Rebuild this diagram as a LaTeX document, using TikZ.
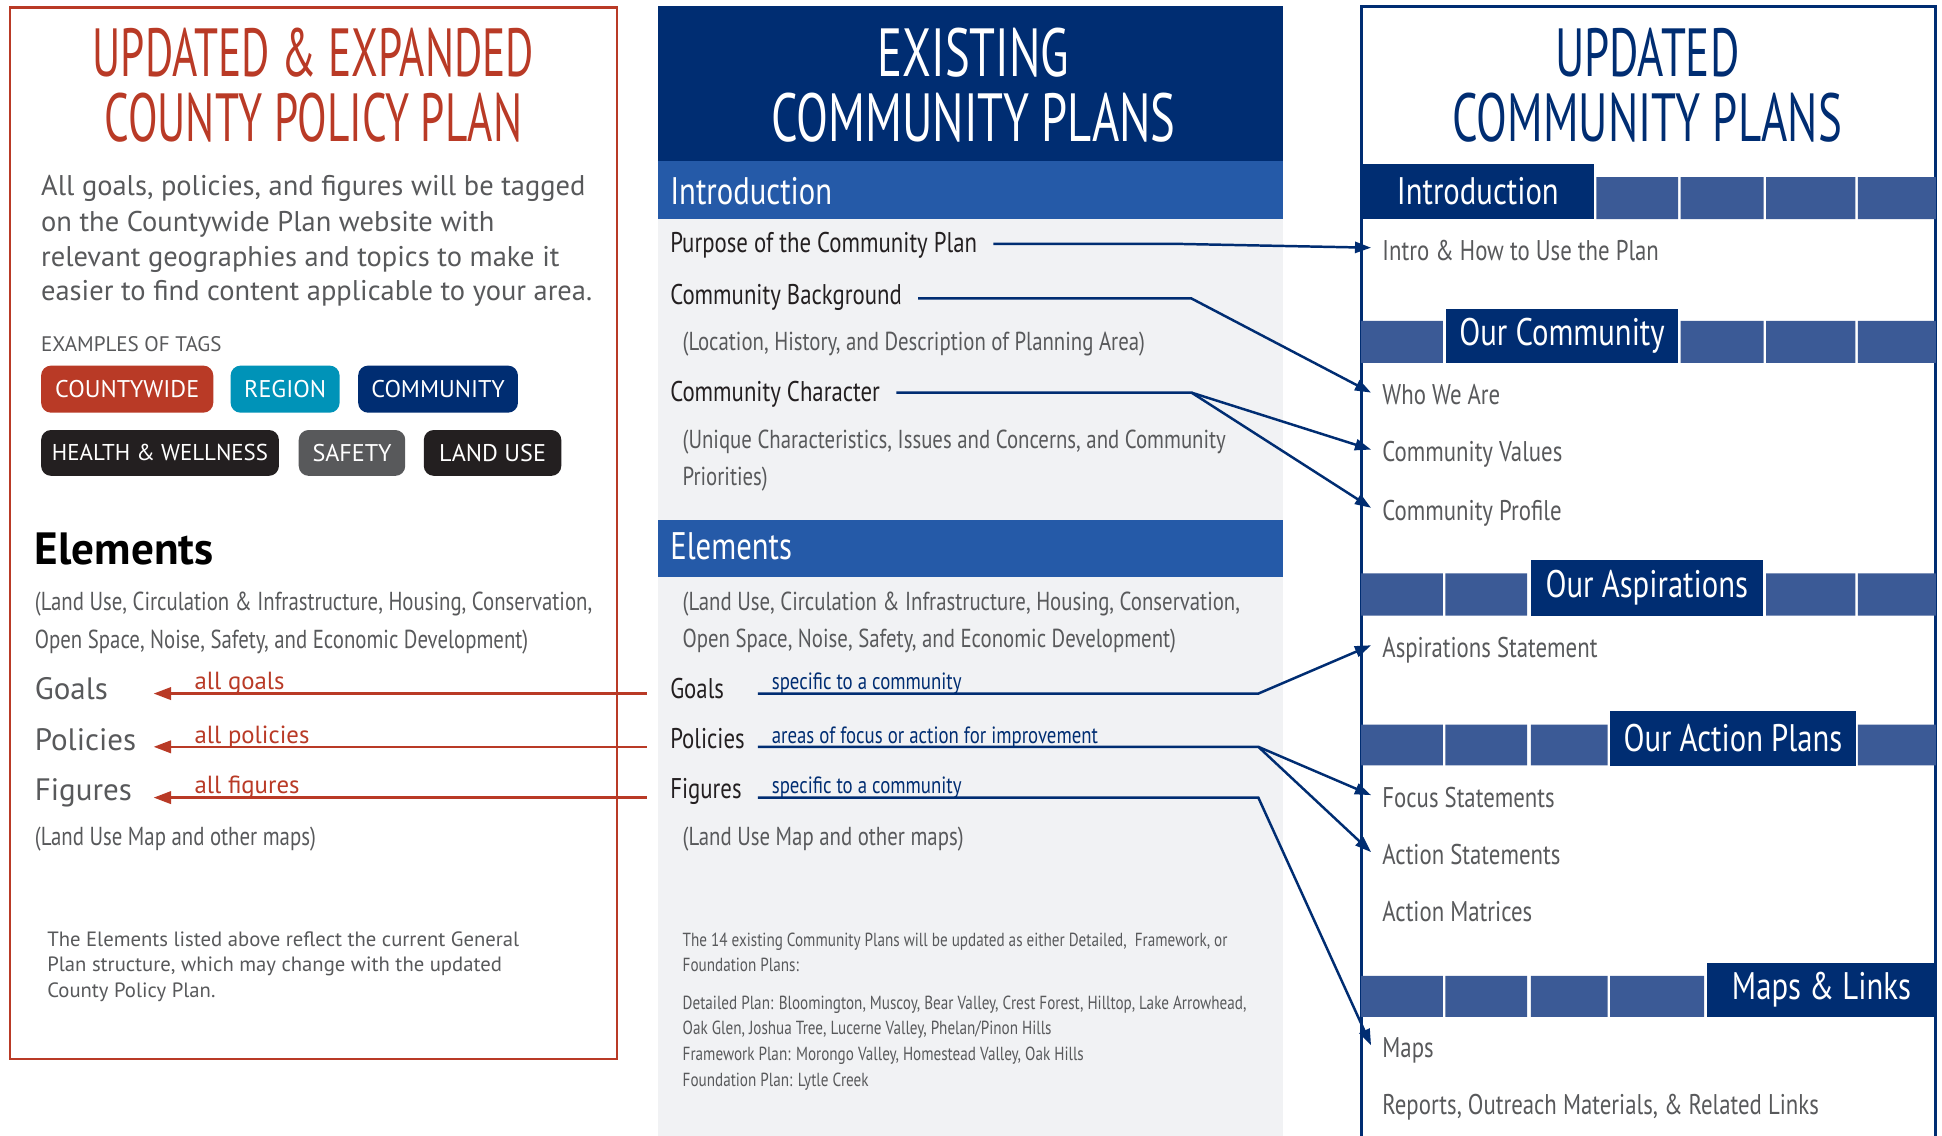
\documentclass[tikz,border=0pt]{standalone}
\usepackage{fontspec}
\setmainfont{PT Sans}
\newfontfamily\cond[FakeStretch=0.80]{PT Sans}
\newfontfamily\ttlA[FakeStretch=0.635]{PT Sans}
\newfontfamily\ttlC[FakeStretch=0.66]{PT Sans}
\newfontfamily\ttlB[FakeStretch=0.685]{PT Sans}
\usetikzlibrary{arrows.meta,calc}
\definecolor{cred}{RGB}{185,58,38}
\definecolor{cteal}{RGB}{0,147,184}
\definecolor{cnavy}{RGB}{0,45,114}
\definecolor{cmid}{RGB}{59,90,150}
\definecolor{cbar}{RGB}{37,90,168}
\definecolor{cgray}{RGB}{88,89,91}
\definecolor{cdark}{RGB}{35,31,32}
\definecolor{cbg}{RGB}{241,242,244}
\newcommand\fsz[1]{\fontsize{#1}{#1}\selectfont}
\begin{document}
\begin{tikzpicture}[x=1pt,y=-1pt,
  txt/.style={inner sep=0pt, anchor=base west},
  ttl/.style={inner sep=0pt, anchor=base},
  tagbox/.style={rounded corners=8pt, inner sep=0pt, anchor=north west, text=white, font=\fsz{19.5}},
  tab/.style={fill=cnavy, inner sep=0pt, anchor=north west, text=white, font=\cond\fsz{31}},
  navyarrow/.style={draw=cnavy, line width=2pt, -{Triangle[length=13pt,width=9pt]}},
  redarrow/.style={draw=cred, line width=2pt, -{Triangle[length=14pt,width=10pt]}},
]
\useasboundingbox (0,0) rectangle (1568,917);
\fill[white] (0,0) rectangle (1568,917);

% ---------------- LEFT PANEL ----------------
\draw[cred, line width=2pt] (8,6) rectangle (498,855);
\node[ttl, text=cred, font=\ttlA\fsz{55}] (lt1) at (253,62) {UPDATED \& EXPANDED};
\node[ttl, text=cred, font=\ttlA\fsz{55}] (lt2) at (253,114) {COUNTY POLICY PLAN};

\begin{scope}[every node/.style={txt, text=cgray, font=\fsz{23}}]
\node (lb1) at (33,158) {All goals, policies, and figures will be tagged};
\node (lb2) at (33,187) {on the Countywide Plan website with};
\node (lb3) at (33,215) {relevant geographies and topics to make it};
\node (lb4) at (33,243) {easier to find content applicable to your area.};
\end{scope}
\node[txt, text=cgray, font=\fsz{17}] (ex) at (33,284) {EXAMPLES OF TAGS};

\node[tagbox, fill=cred, minimum width=139pt, minimum height=38pt] (tg1) at (33,295) {COUNTYWIDE};
\node[tagbox, fill=cteal, minimum width=88pt, minimum height=38pt] (tg2) at (186,295) {REGION};
\node[tagbox, fill=cnavy, minimum width=129pt, minimum height=38pt] (tg3) at (289,295) {COMMUNITY};
\node[tagbox, fill=cdark, minimum width=192pt, minimum height=37pt, font=\fsz{18.5}] (tg4) at (33,347) {HEALTH \& WELLNESS};
\node[tagbox, fill=cgray, minimum width=86pt, minimum height=37pt] (tg5) at (241,347) {SAFETY};
\node[tagbox, fill=cdark, minimum width=111pt, minimum height=37pt] (tg6) at (342,347) {LAND USE};

\node[txt, text=black, font=\bfseries\fsz{36.5}] (lel) at (28,456) {Elements};
\node[txt, text=cgray, font=\cond\fsz{21}] (lp1) at (28,493) {(Land Use, Circulation \& Infrastructure, Housing, Conservation,};
\node[txt, text=cgray, font=\cond\fsz{21}] (lp2) at (28,524) {Open Space, Noise, Safety, and Economic Development)};
\node[txt, text=cgray, font=\fsz{25}] (lgoals) at (28,565) {Goals};
\node[txt, text=cgray, font=\fsz{25}] (lpol) at (28,606) {Policies};
\node[txt, text=cgray, font=\fsz{25}] (lfig) at (28,646) {Figures};
\node[txt, text=cgray, font=\cond\fsz{21}] (lmaps) at (28,683) {(Land Use Map and other maps)};

\node[txt, text=cgray, font=\fsz{16.7}] (ln1) at (38,764) {The Elements listed above reflect the current General};
\node[txt, text=cgray, font=\fsz{16.7}] (ln2) at (38,784) {Plan structure, which may change with the updated};
\node[txt, text=cgray, font=\fsz{16.7}] (ln3) at (38,805) {County Policy Plan.};

% ---------------- MIDDLE PANEL ----------------
\fill[cbg] (531,177) rectangle (1036,917);
\fill[cnavy] (531,5) rectangle (1036,130);
\fill[cbar] (531,130) rectangle (1036,177);
\fill[cbar] (531,420) rectangle (1036,466);
\node[ttl, text=white, font=\ttlB\fsz{55}] (mt1) at (786,62) {EXISTING};
\node[ttl, text=white, font=\ttlB\fsz{55}] (mt2) at (786,114) {COMMUNITY PLANS};
\node[txt, text=white, font=\cond\fsz{31}] (mintro) at (541,165) {Introduction};
\node[txt, text=cdark, font=\cond\fsz{23}] (purpose) at (541,204) {Purpose of the Community Plan};
\node[txt, text=cdark, font=\cond\fsz{23}] (backgr) at (541,246) {Community Background};
\node[txt, text=cgray, font=\cond\fsz{21}] (loc) at (551,283) {(Location, History, and Description of Planning Area)};
\node[txt, text=cdark, font=\cond\fsz{23}] (charac) at (541,324) {Community Character};
\node[txt, text=cgray, font=\cond\fsz{21}] (uniq1) at (551,362) {(Unique Characteristics, Issues and Concerns, and Community};
\node[txt, text=cgray, font=\cond\fsz{21}] (uniq2) at (551,392) {Priorities)};
\node[txt, text=white, font=\cond\fsz{31}] (melem) at (541,452) {Elements};
\node[txt, text=cgray, font=\cond\fsz{21}] (mp1) at (551,493) {(Land Use, Circulation \& Infrastructure, Housing, Conservation,};
\node[txt, text=cgray, font=\cond\fsz{21}] (mp2) at (551,523) {Open Space, Noise, Safety, and Economic Development)};
\node[txt, text=cdark, font=\cond\fsz{23}] (mgoals) at (541,564) {Goals};
\node[txt, text=cdark, font=\cond\fsz{23}] (mpol) at (541,604) {Policies};
\node[txt, text=cdark, font=\cond\fsz{23}] (mfig) at (541,645) {Figures};
\node[txt, text=cnavy, font=\cond\fsz{19}] (bl1) at (623,557) {specific to a community};
\node[txt, text=cnavy, font=\cond\fsz{19}] (bl2) at (623,600) {areas of focus or action for improvement};
\node[txt, text=cnavy, font=\cond\fsz{19}] (bl3) at (623,641) {specific to a community};
\node[txt, text=cgray, font=\cond\fsz{21}] (mmaps) at (551,683) {(Land Use Map and other maps)};
\begin{scope}[every node/.style={txt, text=cgray, font=\cond\fsz{15.3}}]
\node (mf1) at (551,764) {The 14 existing Community Plans will be updated as either Detailed, \ Framework, or};
\node (mf2) at (551,784) {Foundation Plans:};
\node (mf3) at (551,815) {Detailed Plan: Bloomington, Muscoy, Bear Valley, Crest Forest, Hilltop, Lake Arrowhead,};
\node (mf4) at (551,835) {Oak Glen, Joshua Tree, Lucerne Valley, Phelan/Pinon Hills};
\node (mf5) at (551,856) {Framework Plan: Morongo Valley, Homestead Valley, Oak Hills};
\node (mf6) at (551,877) {Foundation Plan: Lytle Creek};
\end{scope}

% ---------------- RIGHT PANEL ----------------
\draw[cnavy, line width=2.5pt] (1099,920) -- (1099,5) -- (1563,5) -- (1563,920);
\node[ttl, text=cnavy, font=\ttlC\fsz{55}] (rt1) at (1330,62) {UPDATED};
\node[ttl, text=cnavy, font=\ttlC\fsz{55}] (rt2) at (1330,114) {COMMUNITY PLANS};

% bar 1
\node[tab, minimum width=188pt, minimum height=45pt] (tIntro) at (1099,132) {Introduction};
\fill[cmid] (1289,143) rectangle (1355,177) (1357,143) rectangle (1424,177) (1426,143) rectangle (1498,177) (1500,143) rectangle (1563,177);
% bar 2
\fill[cmid] (1099,259) rectangle (1165,293) (1357,259) rectangle (1424,293) (1426,259) rectangle (1498,293) (1500,259) rectangle (1563,293);
\node[tab, minimum width=188pt, minimum height=44pt] (tComm) at (1167,249) {Our Community};
% bar 3
\fill[cmid] (1099,463) rectangle (1165,497) (1167,463) rectangle (1233,497) (1426,463) rectangle (1498,497) (1500,463) rectangle (1563,497);
\node[tab, minimum width=187pt, minimum height=45pt] (tAsp) at (1236,452) {Our Aspirations};
% bar 4
\fill[cmid] (1099,585) rectangle (1165,618) (1167,585) rectangle (1233,618) (1236,585) rectangle (1298,618) (1500,585) rectangle (1563,618);
\node[tab, minimum width=198pt, minimum height=44pt] (tAct) at (1300,574) {Our Action Plans};
% bar 5
\fill[cmid] (1099,788) rectangle (1165,821) (1167,788) rectangle (1233,821) (1236,788) rectangle (1298,821) (1300,788) rectangle (1376,821);
\node[tab, minimum width=185pt, minimum height=44pt] (tMaps) at (1378,777) {Maps \& Links};

\begin{scope}[every node/.style={txt, text=cgray, font=\cond\fsz{23}}]
\node (rIntro) at (1116,210) {Intro \& How to Use the Plan};
\node (rWho) at (1116,327) {Who We Are};
\node (rVal) at (1116,373) {Community Values};
\node (rProf) at (1116,420) {Community Profile};
\node (rAsp) at (1116,531) {Aspirations Statement};
\node (rFocus) at (1116,652) {Focus Statements};
\node (rAction) at (1116,698) {Action Statements};
\node (rMatr) at (1116,744) {Action Matrices};
\node (rMaps) at (1116,854) {Maps};
\node (rRep) at (1116,900) {Reports, Outreach Materials, \& Related Links};
\end{scope}

% ---------------- CONNECTORS ----------------
\coordinate (g0) at (522,560);
\coordinate (p0) at (522,603);
\coordinate (f0) at (522,644);
\draw[redarrow] (g0) -- ([xshift=14pt]lpol.east |- g0);
\draw[redarrow] (p0) -- ([xshift=14pt]lpol.east |- p0);
\draw[redarrow] (f0) -- ([xshift=14pt]lpol.east |- f0);

\coordinate (kP) at (955,197);
\coordinate (kB) at (962,241);
\coordinate (kC) at (962,317);
\coordinate (kG) at (1016,560);
\coordinate (kPo) at (1016,603);
\coordinate (kF) at (1016,644);
\draw[navyarrow] ([xshift=13pt]purpose.east |- kP) -- (kP) -- ([shift={(-9pt,10pt)}]rIntro.base west);
\draw[navyarrow] ([xshift=13pt]backgr.east |- kB) -- (kB) -- ([shift={(-9pt,10pt)}]rWho.base west);
\draw[navyarrow] ([xshift=13pt]charac.east |- kC) -- (kC) -- ([shift={(-9pt,10pt)}]rVal.base west);
\draw[navyarrow] (kC) -- ([shift={(-9pt,10pt)}]rProf.base west);
\draw[navyarrow] ([xshift=-11pt]bl1.west |- kG) -- (kG) -- ([shift={(-9pt,10pt)}]rAsp.base west);
\draw[navyarrow] ([xshift=-11pt]bl1.west |- kPo) -- (kPo) -- ([shift={(-9pt,10pt)}]rFocus.base west);
\draw[navyarrow] (kPo) -- ([shift={(-9pt,10pt)}]rAction.base west);
\draw[navyarrow] ([xshift=-11pt]bl1.west |- kF) -- (kF) -- ([shift={(-9pt,10pt)}]rMaps.base west);

\node[txt, text=cred, font=\fsz{20}] (rl1) at (157,557) {all goals};
\node[txt, text=cred, font=\fsz{20}] (rl2) at (157,600) {all policies};
\node[txt, text=cred, font=\fsz{20}] (rl3) at (157,641) {all figures};
\end{tikzpicture}
\end{document}
